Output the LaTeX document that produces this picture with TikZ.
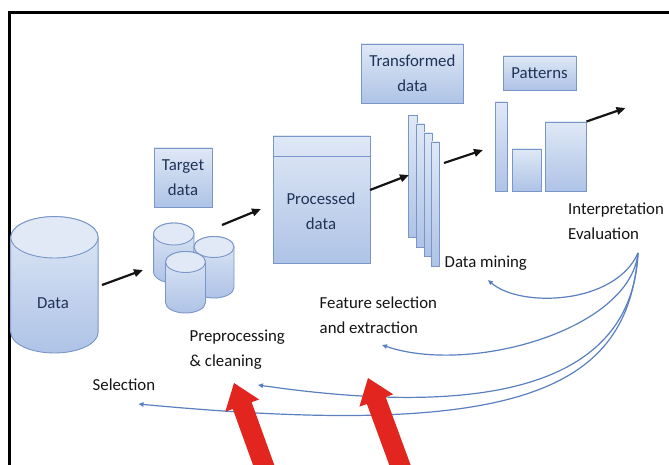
\documentclass[tikz,border=0pt]{standalone}
\usepackage{fontspec}
\setmainfont{Carlito}
\usetikzlibrary{arrows.meta,shadows,calc}
\definecolor{boxline}{HTML}{7896C8}
\definecolor{boxtop}{HTML}{DFE8F6}
\definecolor{boxbot}{HTML}{AEC3E6}
\definecolor{cyltopfill}{HTML}{E1E9F6}
\definecolor{boxtext}{HTML}{1F3357}
\definecolor{fbblue}{HTML}{5A80C0}
\definecolor{redarrow}{HTML}{E2261F}
\definecolor{labeltext}{HTML}{141414}
\newcommand\mycyl[5]{%
  \path[cylbody] (#1-#2,#3) -- (#1-#2,#5)
    arc[start angle=180,end angle=0,x radius=#2,y radius=#4]
    -- (#1+#2,#3)
    arc[start angle=0,end angle=-180,x radius=#2,y radius=#4] -- cycle;
  \path[cyltop] (#1,#3) ellipse[x radius=#2,y radius=#4];
}
\begin{document}
\begin{tikzpicture}[x=1pt,y=-1pt,
  every node/.style={font=\fontsize{16.8}{25}\selectfont},
  boxnode/.style={draw=boxline, line width=0.9pt, top color=boxtop, bottom color=boxbot,
    inner sep=0pt, align=center, text=boxtext,
    drop shadow={shadow xshift=0.7pt, shadow yshift=-0.9pt, opacity=0.3}},
  barnode/.style={draw=boxline, line width=0.9pt, top color=boxtop, bottom color=boxbot, inner sep=0pt},
  cylbody/.style={draw=boxline, line width=0.9pt, top color=boxtop, bottom color=boxbot},
  cyltop/.style={draw=boxline, line width=0.9pt, fill=cyltopfill},
  label/.style={text=labeltext, align=left, inner sep=0pt, anchor=west},
  flow/.style={line width=2.2pt, draw=black!92, -{Triangle[length=9pt,width=7.5pt]}},
  feedback/.style={line width=1.2pt, draw=fbblue, -{Triangle[length=5pt,width=4.5pt]}},
  redarr/.style={fill=redarrow}
]
\useasboundingbox (0,0) rectangle (669,465);
\clip (0,0) rectangle (669,465);
\fill[white] (0,0) rectangle (669,465);
% frame
\draw[line width=2.4pt, black] (9.5,470) -- (9.5,12.5) -- (675,12.5);

% Data cylinder
\mycyl{54.4}{43.7}{237.3}{20.7}{332.3}
\node[text=boxtext] (data) at (53,303) {Data};

% Target cylinders
\mycyl{173.8}{20.2}{234}{11}{272}
\mycyl{214}{20}{247}{10.5}{287.5}
\mycyl{185.5}{20}{262}{10.5}{302.5}
\coordinate (targetcyl) at (195,270);

\node[boxnode, minimum width=58pt, minimum height=59pt] (target) at (183,177.5) {Target\\data};

% Processed data
\node[boxnode, minimum width=97pt, minimum height=127pt] (processed) at (321.5,199.5) {};
\draw[boxline, line width=0.9pt] (processed.west |- 0,156) -- (processed.east |- 0,156);
\node[text=boxtext, align=center] (proctext) at (321,211) {Processed\\data};

% Transformed data
\node[boxnode, minimum width=102pt, minimum height=59pt] (transformed) at (412.4,73.5) {Transformed\\data};

% stack of thin rectangles
\node[barnode, minimum width=8.5pt, minimum height=122pt] (s1) at (412.8,176.7) {};
\node[barnode, minimum width=8pt, minimum height=123pt] (s2) at (420.6,185.5) {};
\node[barnode, minimum width=8pt, minimum height=123pt] (s3) at (428,194.5) {};
\node[barnode, minimum width=8pt, minimum height=124pt] (s4) at (435.5,204) {};

% Patterns
\node[boxnode, minimum width=73pt, minimum height=34pt] (patterns) at (539.5,73) {Patterns};
\node[barnode, minimum width=12pt, minimum height=89pt] (bar1) at (501,146.5) {};
\node[barnode, minimum width=29pt, minimum height=42pt] (bar2) at (526.5,170) {};
\node[barnode, minimum width=41pt, minimum height=69pt] (bar3) at (565.5,156.5) {};

% black flow arrows
\coordinate (a1s) at (102,285); \coordinate (a1e) at (143,270);
\coordinate (a2s) at (222,225); \coordinate (a2e) at (261,209);
\coordinate (a3s) at (370,190); \coordinate (a3e) at (409,175);
\coordinate (a4s) at (444,163); \coordinate (a4e) at (483,150);
\coordinate (a5e) at (625.5,108);
\draw[flow] (a1s) -- (a1e);
\draw[flow] (a2s) -- (a2e);
\draw[flow] (a3s) -- (a3e);
\draw[flow] (a4s) -- (a4e);
\draw[flow] (bar3.north east) -- (a5e);

% labels
\node[label] (interp) at (568,221) {Interpretation\\Evaluation};
\node[label] (mining) at (444.5,263) {Data mining};
\node[label] (feature) at (319.5,315.5) {Feature selection\\and extraction};
\node[label] (prep) at (189.5,350) {Preprocessing\\\&{} cleaning};
\node[label] (selection) at (92.5,385) {Selection};

% feedback curves
\coordinate (fb) at (638,253);
\coordinate (e1) at (488,280);
\coordinate (e2) at (382,345);
\coordinate (e3) at (258,385);
\coordinate (e4) at (138.5,404);
\draw[feedback] (fb) .. controls (615,305) and (520,308) .. (e1);
\draw[feedback] (fb) .. controls (630,330) and (470,375) .. (e2);
\draw[feedback] (fb) .. controls (632,380) and (500,420) .. (e3);
\draw[feedback] (fb) .. controls (628,390) and (520,440) .. (e4);

% red arrows
\fill[redarr] (234,383) -- (259.1,399.5) -- (251.6,402.2) -- (277.4,473.6) -- (258.6,480.4)
  -- (232.8,409.0) -- (225.3,411.7) -- cycle;
\fill[redarr] (368,378) -- (393.2,394.3) -- (385.7,397.1) -- (411.9,468.5) -- (393.1,475.4)
  -- (366.9,404.0) -- (359.4,406.7) -- cycle;
\end{tikzpicture}
\end{document}
